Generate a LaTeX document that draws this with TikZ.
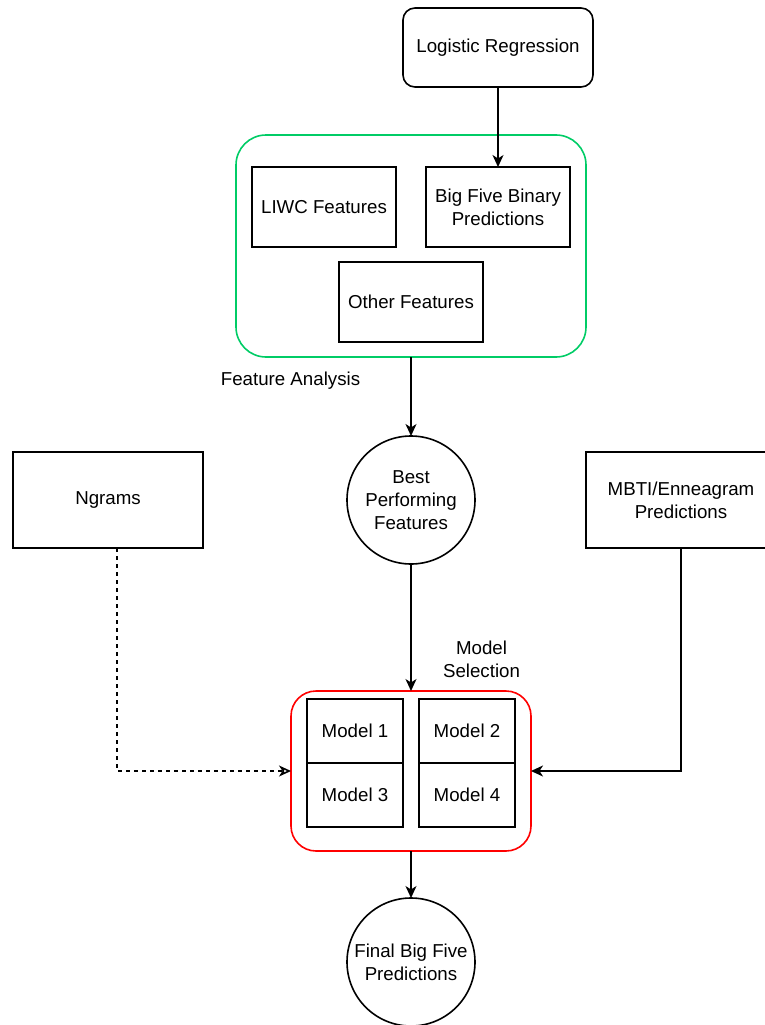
\documentclass[tikz,border=0pt]{standalone}
\usepackage{fontspec}
\setmainfont{Liberation Sans}
\usetikzlibrary{arrows.meta}
\definecolor{grpgreen}{HTML}{00CC66}
\definecolor{grpred}{HTML}{FF0000}
\begin{document}
\begin{tikzpicture}[x=1pt,y=-1pt,inner sep=0pt,outer sep=0pt,line width=1.6pt,
font=\fontsize{18.7}{23}\selectfont,
>={Stealth[length=12pt,width=11pt,inset=3.5pt]},
featblock/.style={draw,rectangle,align=center,minimum width=144pt,minimum height=80pt},
srcblock/.style={draw,rectangle,align=center,minimum width=190pt,minimum height=96pt},
modelblock/.style={draw,rectangle,minimum width=96pt,minimum height=64pt},
stage/.style={draw,circle,align=center,minimum size=128pt}]

\useasboundingbox (0,0) rectangle (764,1025);

\draw (498,47.5) node[draw,rounded corners=12pt,minimum width=190pt,minimum height=79pt] (logreg) {Logistic Regression};

\draw (411,246) node[draw=grpgreen,rounded corners=30pt,minimum width=350pt,minimum height=222pt] (featgrp) {};
\draw (324,207) node[featblock] (liwc) {LIWC Features};
\draw (498,207) node[featblock] (bigfive) {Big Five Binary\\Predictions};
\draw (411,302) node[featblock] (other) {Other Features};
\draw (290.5,381) node (featlabel) {Feature Analysis};

\draw (411,500) node[stage] (best) {Best\\Performing\\Features};
\draw (108,500) node[srcblock] (ngrams) {Ngrams};
\draw (681,500) node[srcblock] (mbti) {MBTI/Enneagram\\Predictions};

\draw (481.5,659.5) node[align=center] (sellabel) {Model\\Selection};
\draw (411,771) node[draw=grpred,rounded corners=25pt,minimum width=240pt,minimum height=160pt] (modelgrp) {};
\draw (355,731) node[modelblock] (m1) {Model 1};
\draw (467,731) node[modelblock] (m2) {Model 2};
\draw (355,795) node[modelblock] (m3) {Model 3};
\draw (467,795) node[modelblock] (m4) {Model 4};

\draw (411,962) node[stage] (final) {Final Big Five\\Predictions};

\draw[->] (logreg.south) -- (bigfive.north);
\draw[->] (featgrp.south) -- (best.north);
\draw[->] (best.south) -- (modelgrp.north);
\draw[->] (modelgrp.south) -- (final.north);
\draw[dash pattern=on 4pt off 4pt,-{Stealth[open,length=12pt,width=11pt,inset=3.5pt]}] ([xshift=9pt]ngrams.south) |- (modelgrp.west);
\draw[->] (mbti.south) |- (modelgrp.east);

\end{tikzpicture}
\end{document}
